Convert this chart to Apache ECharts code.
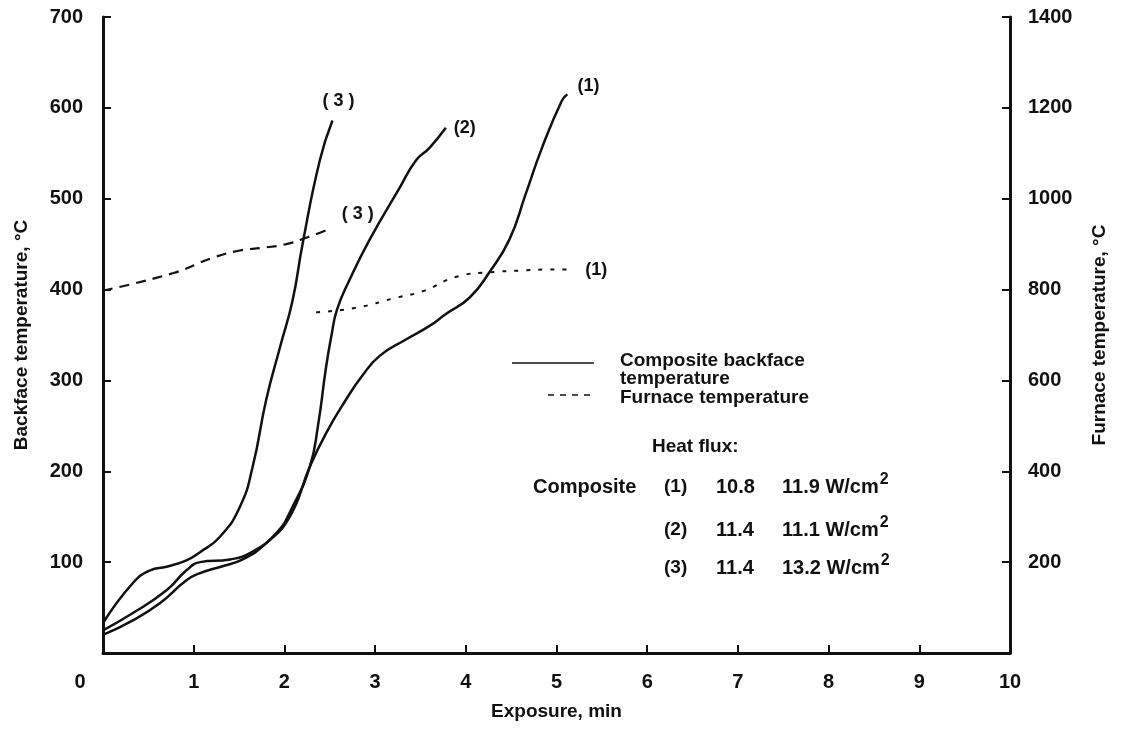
<!DOCTYPE html>
<html>
<head>
<meta charset="utf-8">
<script src="https://cdn.jsdelivr.net/npm/echarts@6/dist/echarts.min.js"></script>
<style>
  html, body { margin: 0; padding: 0; background: #fff; }
  #chart { width: 1122px; height: 730px; }
</style>
</head>
<body>
<div id="chart"></div>
<script>
// backface temperature (left axis, C) vs exposure (min)
var back1X = [0, 0.33, 0.63, 0.92, 1.07, 1.3, 1.54, 1.8, 2.06, 2.28, 2.46, 2.68, 2.85, 3.05, 3.34, 3.6, 3.78, 4.04, 4.26, 4.48, 4.66, 4.84, 5.06, 5.12]
var back1Y = [20, 36, 55, 80, 88, 95, 103, 121, 150, 205, 242, 279, 304, 327, 345, 360, 373, 391, 419, 455, 505, 556, 608, 615]
var back2X = [0, 0.33, 0.7, 0.92, 1.07, 1.4, 1.62, 1.91, 2.09, 2.28, 2.37, 2.46, 2.52, 2.58, 2.72, 2.94, 3.27, 3.45, 3.6, 3.78]
var back2Y = [25, 44, 69, 91, 100, 103, 110, 132, 161, 205, 250, 315, 350, 378, 411, 455, 512, 542, 556, 578]
var back3X = [0, 0.33, 0.52, 0.7, 0.92, 1.07, 1.29, 1.51, 1.65, 1.8, 1.95, 2.09, 2.2, 2.39, 2.53]
var back3Y = [33, 77, 91, 95, 102, 111, 128, 161, 205, 279, 336, 388, 450, 542, 586]
// furnace temperature (right axis, C)
var furn1X = [2.35, 2.79, 3.23, 3.52, 3.93, 4.26, 4.62, 4.88, 5.14]
var furn1Y = [750, 760, 782, 796, 830, 838, 842, 844, 844]
var furn3X = [0, 0.77, 1.21, 1.51, 1.76, 2.02, 2.24, 2.5]
var furn3Y = [798, 836, 870, 886, 892, 900, 914, 934]

var heatFluxRows = ['(1)', '(2)', '(3)']
var fluxA = ['10.8', '11.4', '11.4']
var fluxB = ['11.9', '11.1', '13.2']

function zip(xs, ys) {
  return xs.map(function (x, i) { return [x, ys[i]] })
}

var FONT = '"Liberation Sans", Arial, sans-serif'
var black = '#111'

var dom = document.getElementById('chart')
var myChart = echarts.init(dom)

function curve(name, axis, xs, ys, style, off) {
  return {
    name: name, type: 'line', yAxisIndex: axis, data: zip(xs, ys),
    smooth: 0.5, showSymbol: false,
    lineStyle: style,
    endLabel: { show: true, formatter: name, color: black, fontFamily: FONT,
      fontWeight: 'bold', fontSize: 18, offset: off }
  }
}

// heat flux text block
function txt(str, x, y, size) {
  return { type: 'text', x: x, y: y,
    style: { text: str, font: 'bold ' + size + 'px ' + FONT, fill: black, verticalAlign: 'middle' } }
}
var gText = [
  txt('Heat flux:', 652, 447, 19),
  txt('Composite', 533, 487, 20)
]
var rowY = [487, 530, 568]
heatFluxRows.forEach(function (r, i) {
  gText.push(txt(r, 664, rowY[i], 19))
  gText.push(txt(fluxA[i], 716, rowY[i], 20))
  gText.push({
    type: 'text', x: 782, y: rowY[i],
    style: {
      text: '{a|' + fluxB[i] + ' W/cm}{s|2}', verticalAlign: 'middle',
      rich: {
        a: { font: 'bold 20px ' + FONT, fill: black },
        s: { font: 'bold 16px ' + FONT, fill: black, padding: [0, 0, 14, 1] }
      }
    }
  })
})

myChart.setOption({
  animation: false,
  backgroundColor: '#fff',
  grid: { left: 103, right: 112, top: 17, bottom: 77 },
  xAxis: {
    type: 'value', min: 0, max: 10, interval: 1,
    name: 'Exposure, min', nameLocation: 'middle', nameGap: 49,
    nameTextStyle: { fontFamily: FONT, fontWeight: 'bold', fontSize: 19, color: black },
    axisLine: { lineStyle: { color: black, width: 3 } },
    axisTick: { inside: true, length: 8, lineStyle: { color: black, width: 2 } },
    axisLabel: {
      margin: 19, fontFamily: FONT, fontWeight: 'bold', fontSize: 20, color: black,
      formatter: function (v) { return v === 0 ? '{z|0}' : String(v) },
      rich: { z: { fontFamily: FONT, fontWeight: 'bold', fontSize: 20, color: black, padding: [0, 46, 0, 0] } }
    },
    splitLine: { show: false }
  },
  yAxis: [
    {
      type: 'value', min: 0, max: 700, interval: 100, position: 'left',
      name: 'Backface temperature, \u00b0C', nameLocation: 'middle', nameRotate: 90, nameGap: 72,
      nameTextStyle: { fontFamily: FONT, fontWeight: 'bold', fontSize: 19, color: black },
      axisLine: { show: true, lineStyle: { color: black, width: 3 } },
      axisTick: { show: true, inside: true, length: 8, lineStyle: { color: black, width: 2 } },
      axisLabel: { showMinLabel: false, margin: 20, fontFamily: FONT, fontWeight: 'bold', fontSize: 20, color: black },
      splitLine: { show: false }
    },
    {
      type: 'value', min: 0, max: 1400, interval: 200, position: 'right',
      name: 'Furnace temperature, \u00b0C', nameLocation: 'middle', nameRotate: 90, nameGap: 80,
      nameTextStyle: { fontFamily: FONT, fontWeight: 'bold', fontSize: 19, color: black },
      axisLine: { show: true, lineStyle: { color: black, width: 3 } },
      axisTick: { show: true, inside: true, length: 8, lineStyle: { color: black, width: 2 } },
      axisLabel: {
        showMinLabel: false, margin: 18, fontFamily: FONT, fontWeight: 'bold', fontSize: 20, color: black,
        formatter: function (v) { return String(v) }
      },
      splitLine: { show: false }
    }
  ],
  series: [
    curve('(1)', 0, back1X, back1Y, { color: black, width: 2.5 }, [2, -8]),
    curve('(2)', 0, back2X, back2Y, { color: black, width: 2.5 }, [0, 0]),
    curve('( 3 )', 0, back3X, back3Y, { color: black, width: 2.5 }, [-18, -20]),
    curve('(1)', 1, furn1X, furn1Y, { color: black, width: 2, type: [4, 8] }, [8, 0]),
    curve('( 3 )', 1, furn3X, furn3Y, { color: black, width: 2.2, type: [10, 7] }, [4, -15])
  ],
  graphic: [
    { type: 'line', shape: { x1: 512, y1: 363, x2: 594, y2: 363 }, style: { stroke: black, lineWidth: 1.5 } },
    { type: 'text', x: 620, y: 352, style: { text: 'Composite backface\ntemperature', font: 'bold 19px ' + FONT, fill: black, lineHeight: 18 } },
    { type: 'line', shape: { x1: 548, y1: 395, x2: 594, y2: 395 }, style: { stroke: black, lineWidth: 1.5, lineDash: [6, 6] } },
    { type: 'text', x: 620, y: 388, style: { text: 'Furnace temperature', font: 'bold 19px ' + FONT, fill: black } }
  ].concat(gText)
})
</script>
</body>
</html>
